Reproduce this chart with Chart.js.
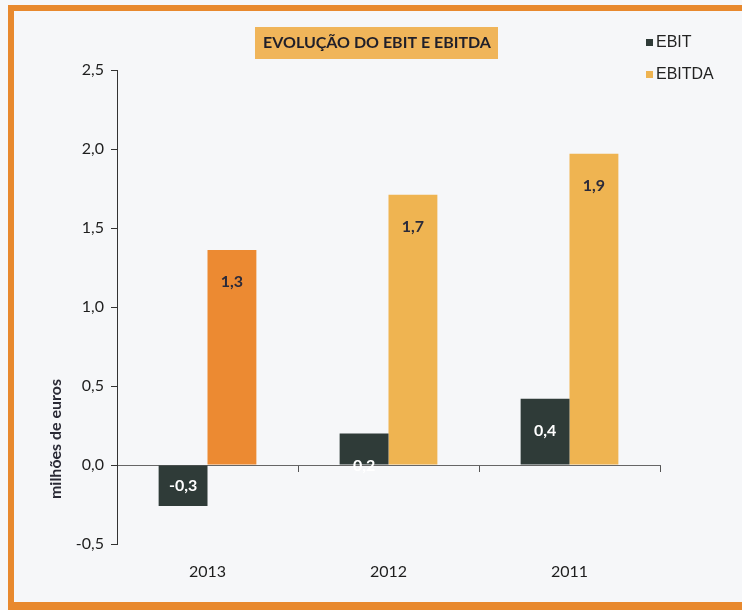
<!DOCTYPE html>
<html>
<head>
<meta charset="utf-8">
<script src="https://cdn.jsdelivr.net/npm/chart.js@4.4.0/dist/chart.umd.min.js"></script>
<style>
  html, body { margin: 0; padding: 0; background: #ffffff; }
  #wrap { position: relative; width: 742px; height: 610px; }
</style>
</head>
<body>
<div id="wrap"><canvas id="barChart" width="742" height="610"></canvas></div>
<script>
// dados
const anos = ['2013', '2012', '2011'];
const ebit = [-0.26, 0.20, 0.42];
const ebitda = [1.36, 1.71, 1.97];
const ebitRotulos = ['-0,3', '0,2', '0,4'];
const ebitdaRotulos = ['1,3', '1,7', '1,9'];
const yTicks = [-0.5, 0, 0.5, 1.0, 1.5, 2.0, 2.5];

const corEbit = '#2f3b38';
const corEbitda = '#efb451';
const corEbitda2013 = '#ec8a32';
const corMoldura = '#e8892e';

// fundo, moldura, título, legenda e título do eixo
const decoracao = {
    id: 'decoracao',
    beforeDraw(chart) {
        const c = chart.ctx;
        c.save();
        c.fillStyle = '#f6f7f9';
        c.fillRect(0, 0, 742, 610);
        c.fillStyle = corMoldura;
        c.fillRect(8, 5, 734, 6);   // topo
        c.fillRect(8, 5, 6, 605);   // esquerda
        c.fillRect(8, 602, 734, 8); // base
        c.restore();
    },
    afterDraw(chart) {
        const c = chart.ctx;
        c.save();
        // título
        c.fillStyle = '#f0b55a';
        c.fillRect(255, 27, 243, 32);
        c.fillStyle = '#1f1f2a';
        c.font = 'bold 16px Lato';
        c.textAlign = 'center';
        c.textBaseline = 'middle';
        c.fillText('EVOLUÇÃO DO EBIT E EBITDA', 377, 43);
        // legenda
        c.font = '16px "Liberation Sans"';
        c.textAlign = 'left';
        c.fillStyle = corEbit;
        c.fillRect(646, 39, 7, 7);
        c.fillStyle = corEbitda;
        c.fillRect(646, 71, 7, 7);
        c.fillStyle = '#222';
        c.fillText('EBIT', 656, 43);
        c.fillText('EBITDA', 656, 75);
        // título do eixo y
        c.translate(56, 439);
        c.rotate(-Math.PI / 2);
        c.textAlign = 'center';
        c.font = 'bold 16px Lato';
        c.fillStyle = '#2a2a35';
        c.fillText('milhões de euros', 0, 0);
        c.restore();
    }
};

// rótulos de valor dentro das barras
const rotulos = {
    id: 'rotulos',
    afterDatasetsDraw(chart) {
        const c = chart.ctx;
        c.save();
        c.font = 'bold 16px Lato';
        c.textAlign = 'center';
        c.textBaseline = 'middle';
        chart.data.datasets.forEach((ds, i) => {
            chart.getDatasetMeta(i).data.forEach((bar, j) => {
                const v = ds.data[j];
                const y = v < 0 ? (bar.y + bar.base) / 2 : bar.y + 32;
                c.fillStyle = i === 0 ? '#ffffff' : '#2a2a3a';
                c.fillText(ds.rotulos[j], bar.x, y);
            });
        });
        c.restore();
    }
};

const fonteEixo = { family: 'Lato', size: 16 };

new Chart(document.getElementById('barChart'), {
    type: 'bar',
    data: {
        labels: anos,
        datasets: [{
            label: 'EBIT',
            data: ebit,
            rotulos: ebitRotulos,
            backgroundColor: corEbit
        }, {
            label: 'EBITDA',
            data: ebitda,
            rotulos: ebitdaRotulos,
            backgroundColor: [corEbitda2013, corEbitda, corEbitda]
        }]
    },
    options: {
        responsive: false,
        animation: false,
        categoryPercentage: 0.54,
        barPercentage: 1,
        layout: { padding: { left: 0, top: 70, right: 82, bottom: 66 } },
        plugins: {
            legend: { display: false },
            tooltip: { enabled: false }
        },
        scales: {
            x: {
                axis: 'x',
                position: { y: 0 },
                grid: { drawOnChartArea: false, tickLength: 6, color: '#555', offset: true },
                border: { display: true, color: '#666', width: 1 },
                ticks: { padding: 91, color: '#1e1e1e', font: fonteEixo }
            },
            y: {
                min: -0.5,
                max: 2.5,
                afterFit: (s) => { s.width = 117; },
                afterBuildTicks: (s) => { s.ticks = yTicks.map(v => ({ value: v })); },
                grid: { drawOnChartArea: false, tickLength: 6, color: '#333' },
                border: { display: true, color: '#333', width: 1 },
                ticks: {
                    padding: 7,
                    color: '#1e1e1e',
                    font: fonteEixo,
                    callback: (v) => v.toFixed(1).replace('.', ',')
                }
            }
        }
    },
    plugins: [decoracao, rotulos]
});
</script>
</body>
</html>
